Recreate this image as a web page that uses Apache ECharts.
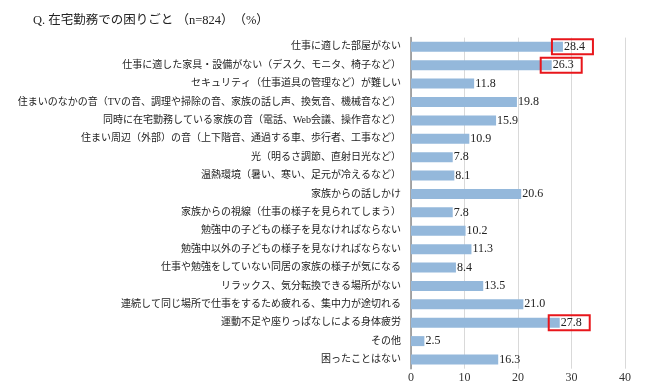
<!DOCTYPE html>
<html><head><meta charset="utf-8">
<script src="https://cdn.jsdelivr.net/npm/echarts@6/dist/echarts.min.js"></script>
<style>html,body{margin:0;padding:0;background:#fff}#c{width:650px;height:389px}</style>
</head><body><div id="c"></div>
<script>
const titleText = "Q. 在宅勤務での困りごと （n=824）　（%）";
const categories = [
  "仕事に適した部屋がない",
  "仕事に適した家具・設備がない（デスク、モニタ、椅子など）",
  "セキュリティ（仕事道具の管理など）が難しい",
  "住まいのなかの音（TVの音、調理や掃除の音、家族の話し声、換気音、機械音など）",
  "同時に在宅勤務している家族の音（電話、Web会議、操作音など）",
  "住まい周辺（外部）の音（上下階音、通過する車、歩行者、工事など）",
  "光（明るさ調節、直射日光など）",
  "温熱環境（暑い、寒い、足元が冷えるなど）",
  "家族からの話しかけ",
  "家族からの視線（仕事の様子を見られてしまう）",
  "勉強中の子どもの様子を見なければならない",
  "勉強中以外の子どもの様子を見なければならない",
  "仕事や勉強をしていない同居の家族の様子が気になる",
  "リラックス、気分転換できる場所がない",
  "連続して同じ場所で仕事をするため疲れる、集中力が途切れる",
  "運動不足や座りっぱなしによる身体疲労",
  "その他",
  "困ったことはない"
];
const values = [28.4, 26.3, 11.8, 19.8, 15.9, 10.9, 7.8, 8.1, 20.6, 7.8, 10.2, 11.3, 8.4, 13.5, 21.0, 27.8, 2.5, 16.3];
const highlighted = [0, 1, 15];
const xTicks = [0, 10, 20, 30, 40];

const serif = "'Liberation Serif', 'Noto Sans CJK JP', serif";
const data = values.map((v, i) => {
  const d = { value: v };
  if (highlighted.includes(i)) {
    d.label = {
      borderColor: '#e8161b', borderWidth: 2,
      padding: [2, 8, 1, 12], offset: [-12, 0]
    };
  }
  return d;
});

const chart = echarts.init(document.getElementById('c'));
chart.setOption({
  animation: false,
  title: {
    text: titleText, left: 28, top: 9,
    textStyle: { fontFamily: serif, fontSize: 12.5, fontWeight: 'normal', color: '#222' }
  },
  grid: { left: 411, right: 25, top: 37.6, bottom: 20.3, containLabel: false },
  xAxis: {
    type: 'value', min: xTicks[0], max: xTicks[xTicks.length - 1], interval: 10,
    axisLine: { show: false }, axisTick: { show: false },
    splitLine: { lineStyle: { color: '#d9d9d9', width: 1 } },
    axisLabel: { fontFamily: serif, fontSize: 12, color: '#333', margin: 3 }
  },
  yAxis: {
    type: 'category', data: categories, inverse: true,
    axisLine: { show: true, lineStyle: { color: '#8c8c8c', width: 1.5 } },
    axisTick: { show: false },
    axisLabel: { fontFamily: serif, fontSize: 10, color: '#222', margin: 10 }
  },
  series: [{
    type: 'bar', data: data, barWidth: 10,
    itemStyle: { color: '#94b8db' },
    label: {
      show: true, position: 'right', distance: 1,
      fontFamily: serif, fontSize: 12, color: '#222',
      formatter: p => p.value.toFixed(1)
    }
  }]
});
</script></body></html>
